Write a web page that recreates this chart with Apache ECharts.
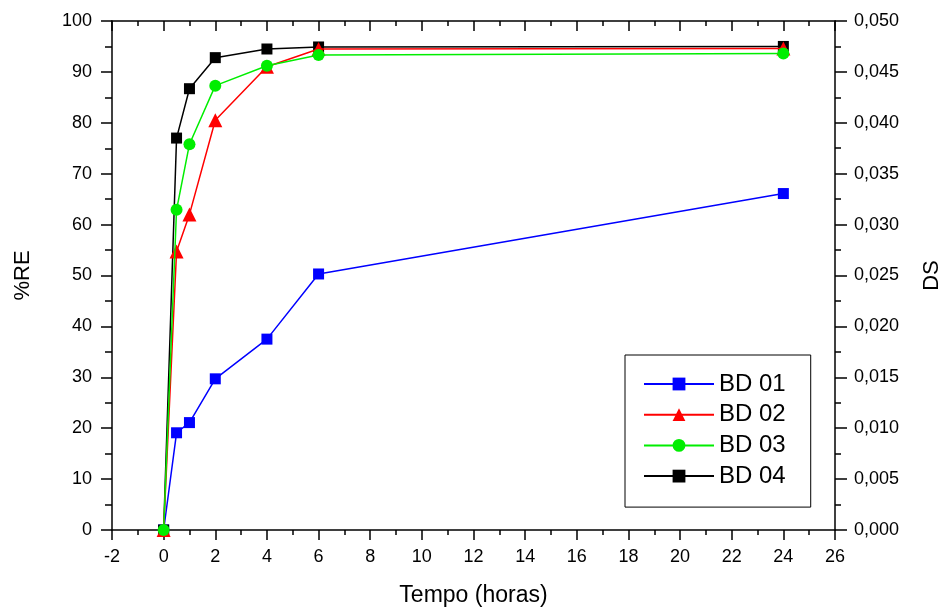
<!DOCTYPE html>
<html>
<head>
<meta charset="utf-8">
<script src="https://cdn.jsdelivr.net/npm/echarts@6/dist/echarts.min.js"></script>
<style>
  html, body { margin: 0; padding: 0; background: #fff; }
  #chart { width: 945px; height: 610px; }
</style>
</head>
<body>
<div id="chart"></div>
<script>
const tempo = [0, 0.5, 1, 2, 4, 6, 24];
const bd01 = [0, 19.1, 21.1, 29.7, 37.5, 50.3, 66.1];
const bd02 = [0, 54.7, 62.0, 80.5, 91.0, 94.5, 94.6];
const bd03 = [0, 62.9, 75.8, 87.3, 91.2, 93.3, 93.6];
const bd04 = [0, 77.0, 86.7, 92.8, 94.5, 94.9, 95.0];
const names = ['BD 01', 'BD 02', 'BD 03', 'BD 04'];
const colors = ['#0000ff', '#ff0000', '#00ee00', '#000000'];
const symbols = ['rect', 'triangle', 'circle', 'rect'];
const sizes = [11, 14, 12, 11];
const zOrder = [1, 3, 4, 2];

const FONT = '"Liberation Sans", Arial, sans-serif';

const chart = echarts.init(document.getElementById('chart'));

const pairs = (ys) => tempo.map((t, i) => [t, ys[i]]);

const series = [bd01, bd02, bd03, bd04].map((ys, i) => ({
  name: names[i],
  type: 'line',
  data: pairs(ys),
  symbol: symbols[i],
  symbolSize: sizes[i],
  showAllSymbol: true,
  lineStyle: { color: colors[i], width: 1.5 },
  itemStyle: { color: colors[i] },
  z: zOrder[i]
}));

const tick = () => ({ color: '#000', width: 1.5 });

const option = {
  animation: false,
  grid: { left: 112, right: 110, top: 21, bottom: 80, outerBoundsMode: 'none', containLabel: false },
  legend: {
    orient: 'vertical',
    left: 625,
    top: 355,
    data: names,
    backgroundColor: '#fff',
    borderColor: '#000',
    borderWidth: 1,
    borderRadius: 0,
    padding: [17, 25, 19, 18],
    itemWidth: 70,
    itemHeight: 16,
    itemGap: 6.7,
    textStyle: { fontFamily: FONT, fontSize: 24, color: '#000' }
  },
  xAxis: [
    {
      type: 'value',
      min: -2, max: 26, interval: 2,
      name: 'Tempo (horas)',
      nameLocation: 'middle',
      nameGap: 54,
      nameTextStyle: { fontFamily: FONT, fontSize: 23, color: '#000' },
      axisLine: { onZero: false, lineStyle: tick() },
      axisTick: { inside: false, length: 10, lineStyle: tick() },
      minorTick: { show: true, splitNumber: 2, length: 5, lineStyle: tick() },
      axisLabel: { fontFamily: FONT, fontSize: 18, color: '#000', margin: 18 },
      splitLine: { show: false }
    },
    {
      type: 'value',
      position: 'top',
      min: -2, max: 26, interval: 2,
      axisLine: { onZero: false, lineStyle: tick() },
      axisTick: { inside: true, length: 10, lineStyle: tick() },
      minorTick: { show: true, splitNumber: 2, length: 5, lineStyle: tick() },
      axisLabel: { show: false },
      splitLine: { show: false }
    }
  ],
  yAxis: [
    {
      type: 'value',
      min: 0, max: 100, interval: 10,
      name: '%RE',
      nameLocation: 'middle',
      nameGap: 78,
      nameRotate: 90,
      nameTextStyle: { fontFamily: FONT, fontSize: 22, color: '#000' },
      axisLine: { show: true, onZero: false, lineStyle: tick() },
      axisTick: { show: true, inside: false, length: 11, lineStyle: tick() },
      minorTick: { show: true, splitNumber: 2, length: 7, lineStyle: tick() },
      axisLabel: { fontFamily: FONT, fontSize: 18, color: '#000', margin: 20 },
      splitLine: { show: false }
    },
    {
      type: 'value',
      position: 'right',
      min: 0, max: 0.05, interval: 0.005,
      name: 'DS',
      nameLocation: 'middle',
      nameGap: 86,
      nameRotate: 90,
      nameTextStyle: { fontFamily: FONT, fontSize: 22, color: '#000' },
      axisLine: { show: true, onZero: false, lineStyle: tick() },
      axisTick: { show: true, inside: false, length: 12, lineStyle: tick() },
      minorTick: { show: true, splitNumber: 2, length: 6, lineStyle: tick() },
      axisLabel: {
        fontFamily: FONT, fontSize: 18, color: '#000', margin: 19,
        formatter: (v) => v.toFixed(3).replace('.', ',')
      },
      splitLine: { show: false }
    }
  ],
  series: series
};

chart.setOption(option);
</script>
</body>
</html>
